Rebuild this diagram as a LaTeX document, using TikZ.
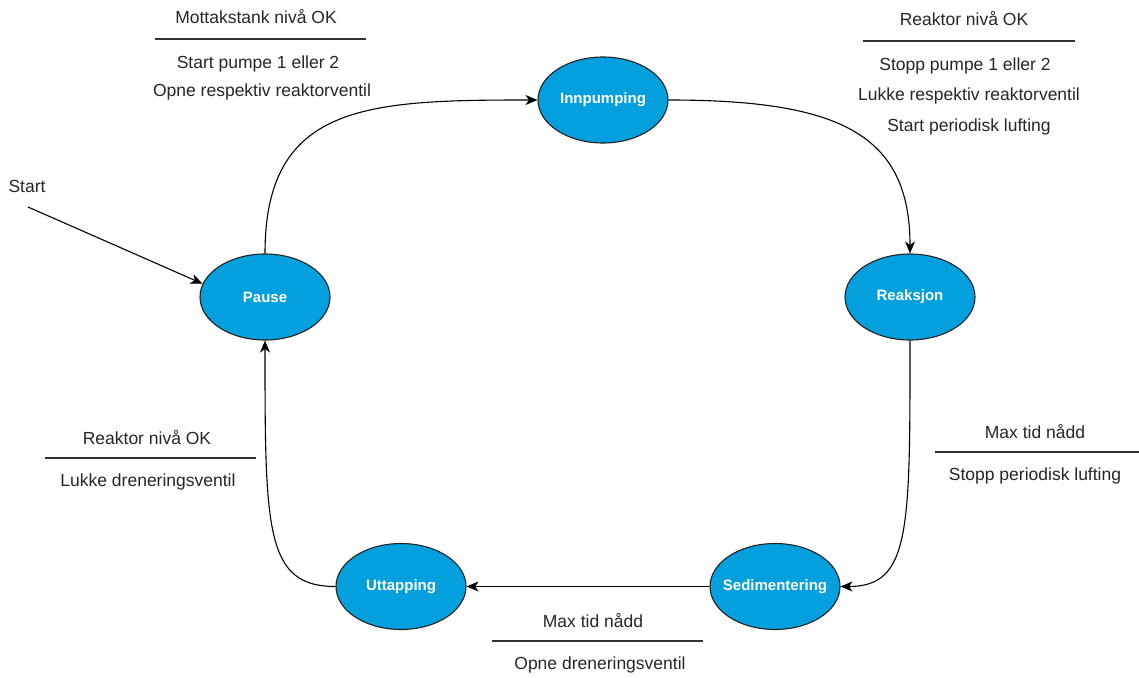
\documentclass[tikz,border=0pt]{standalone}
\usepackage{fontspec}
\setmainfont{Liberation Sans}
\usetikzlibrary{shapes.geometric,arrows.meta}
\definecolor{stateblue}{HTML}{03A0DD}
\definecolor{edgegray}{HTML}{222222}
\tikzset{
  state/.style={ellipse, draw=edgegray, line width=1.1pt, fill=stateblue,
    minimum width=130pt, minimum height=86pt, inner xsep=-25pt, inner ysep=0pt,
    text=white, font=\fontsize{15}{17}\selectfont\bfseries},
  conn/.style={draw=black, line width=1.1pt, -{Stealth[length=12pt,width=10pt,inset=3.5pt]}},
  lbl/.style={font=\fontsize{17.5}{20}\selectfont, text=black!85, inner sep=0pt},
  sep/.style={draw=black!80, line width=1.2pt}
}
\begin{document}
\begin{tikzpicture}[x=1pt,y=-1pt]
\useasboundingbox (0,0) rectangle (1139,677);
% states
\node[state] (inn) at (603,100) {Innpumping};
\node[state] (pau) at (265,297) {Pause};
\node[state] (rea) at (910,297) {Reaksjon};
\node[state] (sed) at (775,586.5) {Sedimentering};
\node[state] (utt) at (401,586.5) {Uttapping};
% start
\node[lbl] (start) at (27,186) {Start};
\coordinate (s0) at (28,207);
\draw[conn] (s0) -- (pau.168);
% connectors
\draw[conn] (pau.north) .. controls +(0,-150) and +(-170,0) .. (inn.west);
\draw[conn] (inn.east) .. controls +(170,0) and +(0,-120) .. (rea.north);
\draw[conn] (rea.south) .. controls +(0,190) and +(70,0) .. (sed.east);
\draw[conn] (sed.west) -- (utt.east);
\draw[conn] (utt.west) .. controls +(-70,0) and +(0,190) .. (pau.south);
% labels top-left
\node[lbl] (l1a) at (256,17) {Mottakstank nivå OK};
\coordinate (l1s) at (155,39); \coordinate (l1e) at (366,39);
\draw[sep] (l1s) -- (l1e);
\node[lbl] (l1b) at (258,64) {Start pumpe 1 eller 2};
\node[lbl] (l1c) at (262,92) {Opne respektiv reaktorventil};
% labels top-right
\node[lbl] (l2a) at (964,19) {Reaktor nivå OK};
\coordinate (l2s) at (863,41); \coordinate (l2e) at (1075,41);
\draw[sep] (l2s) -- (l2e);
\node[lbl] (l2b) at (965,66) {Stopp pumpe 1 eller 2};
\node[lbl] (l2c) at (969,96) {Lukke respektiv reaktorventil};
\node[lbl] (l2d) at (969,127) {Start periodisk lufting};
% labels right
\node[lbl] (l3a) at (1035,432) {Max tid nådd};
\coordinate (l3s) at (935,452); \coordinate (l3e) at (1139,452);
\draw[sep] (l3s) -- (l3e);
\node[lbl] (l3b) at (1035,476) {Stopp periodisk lufting};
% labels bottom
\node[lbl] (l4a) at (593,621) {Max tid nådd};
\coordinate (l4s) at (492,641); \coordinate (l4e) at (703,641);
\draw[sep] (l4s) -- (l4e);
\node[lbl] (l4b) at (600,665) {Opne dreneringsventil};
% labels left
\node[lbl] (l5a) at (147,438) {Reaktor nivå OK};
\coordinate (l5s) at (45,458); \coordinate (l5e) at (256,458);
\draw[sep] (l5s) -- (l5e);
\node[lbl] (l5b) at (148,482) {Lukke dreneringsventil};
\end{tikzpicture}
\end{document}
